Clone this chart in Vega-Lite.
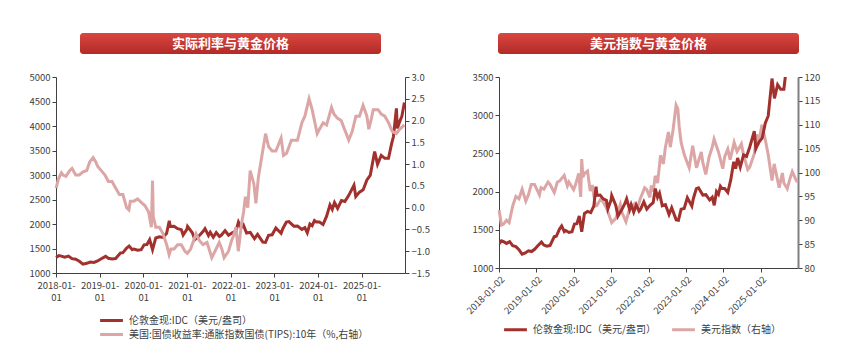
{
  "$schema": "https://vega.github.io/schema/vega-lite/v6.json",
  "background": "white",
  "padding": {"left": 28, "top": 33, "right": 5, "bottom": 5},
  "config": {
    "font": "Noto Sans CJK SC",
    "view": {"stroke": null},
    "concat": {"spacing": 34},
    "axis": {"grid": false, "title": null, "labelFontSize": 9.5, "labelColor": "#404040", "domainColor": "#404040", "tickColor": "#404040", "tickSize": 4, "labelPadding": 2, "labelFont": "Noto Sans CJK SC", "labelOverlap": false},
    "legend": {"labelFontSize": 10, "labelColor": "#404040", "labelLimit": 400, "symbolType": "M-2,0L2,0", "symbolSize": 130, "symbolStrokeWidth": 3, "title": null, "labelOffset": 10}
  },
  "datasets": {
    "gold": [
      {"date": "2018-01-02", "v": 1315}, {"date": "2018-01-25", "v": 1355}, {"date": "2018-02-15", "v": 1345}, {"date": "2018-03-15", "v": 1322}, {"date": "2018-04-15", "v": 1345}, {"date": "2018-05-15", "v": 1292}, {"date": "2018-06-15", "v": 1280}, {"date": "2018-07-15", "v": 1240}, {"date": "2018-08-15", "v": 1180}, {"date": "2018-09-15", "v": 1198}, {"date": "2018-10-15", "v": 1225}, {"date": "2018-11-15", "v": 1215}, {"date": "2018-12-15", "v": 1245},
      {"date": "2019-01-15", "v": 1290}, {"date": "2019-02-20", "v": 1340}, {"date": "2019-03-15", "v": 1300}, {"date": "2019-04-15", "v": 1285}, {"date": "2019-05-15", "v": 1295}, {"date": "2019-06-25", "v": 1410}, {"date": "2019-07-15", "v": 1415}, {"date": "2019-08-15", "v": 1510}, {"date": "2019-09-05", "v": 1550}, {"date": "2019-10-01", "v": 1475}, {"date": "2019-10-15", "v": 1490}, {"date": "2019-11-15", "v": 1465}, {"date": "2019-12-15", "v": 1475},
      {"date": "2020-01-08", "v": 1575}, {"date": "2020-02-01", "v": 1580}, {"date": "2020-02-24", "v": 1680}, {"date": "2020-03-19", "v": 1475}, {"date": "2020-04-15", "v": 1715}, {"date": "2020-05-15", "v": 1740}, {"date": "2020-06-15", "v": 1725}, {"date": "2020-07-15", "v": 1810}, {"date": "2020-08-06", "v": 2065}, {"date": "2020-08-15", "v": 1950}, {"date": "2020-09-15", "v": 1955}, {"date": "2020-10-15", "v": 1905}, {"date": "2020-11-15", "v": 1885}, {"date": "2020-11-30", "v": 1775}, {"date": "2020-12-31", "v": 1890},
      {"date": "2021-01-06", "v": 1950}, {"date": "2021-02-15", "v": 1820}, {"date": "2021-03-08", "v": 1680}, {"date": "2021-04-15", "v": 1765}, {"date": "2021-05-15", "v": 1845}, {"date": "2021-06-01", "v": 1905}, {"date": "2021-06-30", "v": 1765}, {"date": "2021-07-15", "v": 1830}, {"date": "2021-08-09", "v": 1730}, {"date": "2021-09-03", "v": 1825}, {"date": "2021-09-30", "v": 1745}, {"date": "2021-10-15", "v": 1770}, {"date": "2021-11-16", "v": 1865}, {"date": "2021-12-15", "v": 1770},
      {"date": "2022-01-15", "v": 1820}, {"date": "2022-02-15", "v": 1855}, {"date": "2022-03-08", "v": 2040}, {"date": "2022-03-30", "v": 1925}, {"date": "2022-04-18", "v": 1980}, {"date": "2022-05-15", "v": 1815}, {"date": "2022-06-15", "v": 1830}, {"date": "2022-07-20", "v": 1700}, {"date": "2022-08-15", "v": 1790}, {"date": "2022-09-28", "v": 1630}, {"date": "2022-10-20", "v": 1625}, {"date": "2022-11-15", "v": 1770}, {"date": "2022-12-15", "v": 1780},
      {"date": "2023-01-15", "v": 1920}, {"date": "2023-02-28", "v": 1810}, {"date": "2023-03-15", "v": 1910}, {"date": "2023-04-13", "v": 2040}, {"date": "2023-05-04", "v": 2050}, {"date": "2023-06-15", "v": 1955}, {"date": "2023-07-15", "v": 1960}, {"date": "2023-08-21", "v": 1890}, {"date": "2023-09-15", "v": 1925}, {"date": "2023-10-05", "v": 1820}, {"date": "2023-10-27", "v": 2000}, {"date": "2023-11-15", "v": 1965}, {"date": "2023-12-04", "v": 2070}, {"date": "2023-12-20", "v": 2040},
      {"date": "2024-01-15", "v": 2040}, {"date": "2024-02-14", "v": 1990}, {"date": "2024-03-15", "v": 2160}, {"date": "2024-04-12", "v": 2390}, {"date": "2024-05-01", "v": 2300}, {"date": "2024-05-20", "v": 2440}, {"date": "2024-06-15", "v": 2320}, {"date": "2024-07-17", "v": 2480}, {"date": "2024-08-15", "v": 2460}, {"date": "2024-09-15", "v": 2580}, {"date": "2024-10-30", "v": 2790}, {"date": "2024-11-14", "v": 2560}, {"date": "2024-12-15", "v": 2650},
      {"date": "2025-01-15", "v": 2700}, {"date": "2025-02-15", "v": 2900}, {"date": "2025-03-15", "v": 2990}, {"date": "2025-04-21", "v": 3480}, {"date": "2025-05-15", "v": 3220}, {"date": "2025-06-15", "v": 3400}, {"date": "2025-07-15", "v": 3340}, {"date": "2025-08-15", "v": 3340}, {"date": "2025-09-10", "v": 3640}, {"date": "2025-09-25", "v": 3780}, {"date": "2025-10-20", "v": 4360}, {"date": "2025-10-28", "v": 3950}, {"date": "2025-11-15", "v": 4080}, {"date": "2025-12-05", "v": 4200}, {"date": "2025-12-26", "v": 4480}
    ],
    "tips": [
      {"date": "2018-01-02", "v": 0.45}, {"date": "2018-01-20", "v": 0.65}, {"date": "2018-02-15", "v": 0.8}, {"date": "2018-03-01", "v": 0.75}, {"date": "2018-03-25", "v": 0.72}, {"date": "2018-04-25", "v": 0.85}, {"date": "2018-05-15", "v": 0.9}, {"date": "2018-06-15", "v": 0.75}, {"date": "2018-07-15", "v": 0.75}, {"date": "2018-08-15", "v": 0.82}, {"date": "2018-09-15", "v": 0.85}, {"date": "2018-10-10", "v": 1.05}, {"date": "2018-11-08", "v": 1.15}, {"date": "2018-11-30", "v": 1.05}, {"date": "2018-12-15", "v": 0.95},
      {"date": "2019-01-15", "v": 0.85}, {"date": "2019-02-15", "v": 0.75}, {"date": "2019-03-15", "v": 0.6}, {"date": "2019-04-15", "v": 0.6}, {"date": "2019-05-15", "v": 0.45}, {"date": "2019-06-15", "v": 0.3}, {"date": "2019-07-15", "v": 0.3}, {"date": "2019-08-15", "v": 0.0}, {"date": "2019-09-03", "v": -0.05}, {"date": "2019-09-15", "v": 0.15}, {"date": "2019-10-15", "v": 0.15}, {"date": "2019-11-15", "v": 0.2}, {"date": "2019-12-15", "v": 0.12},
      {"date": "2020-01-15", "v": 0.05}, {"date": "2020-02-15", "v": -0.1}, {"date": "2020-03-09", "v": -0.45}, {"date": "2020-03-19", "v": 0.62}, {"date": "2020-03-25", "v": -0.2}, {"date": "2020-04-15", "v": -0.45}, {"date": "2020-05-15", "v": -0.45}, {"date": "2020-06-15", "v": -0.6}, {"date": "2020-07-15", "v": -0.85}, {"date": "2020-08-05", "v": -1.08}, {"date": "2020-08-20", "v": -0.95}, {"date": "2020-09-15", "v": -0.95}, {"date": "2020-10-15", "v": -0.85}, {"date": "2020-11-15", "v": -0.85}, {"date": "2020-12-15", "v": -1.0},
      {"date": "2021-01-04", "v": -1.05}, {"date": "2021-02-01", "v": -0.95}, {"date": "2021-03-18", "v": -0.6}, {"date": "2021-04-15", "v": -0.75}, {"date": "2021-05-15", "v": -0.85}, {"date": "2021-06-18", "v": -0.8}, {"date": "2021-07-28", "v": -1.15}, {"date": "2021-08-15", "v": -1.05}, {"date": "2021-09-28", "v": -0.8}, {"date": "2021-10-20", "v": -0.95}, {"date": "2021-11-08", "v": -1.15}, {"date": "2021-12-15", "v": -1.0},
      {"date": "2022-01-10", "v": -0.75}, {"date": "2022-01-25", "v": -0.65}, {"date": "2022-02-15", "v": -0.45}, {"date": "2022-03-07", "v": -1.0}, {"date": "2022-04-01", "v": -0.4}, {"date": "2022-04-20", "v": -0.1}, {"date": "2022-05-05", "v": 0.25}, {"date": "2022-05-25", "v": 0.0}, {"date": "2022-06-14", "v": 0.85}, {"date": "2022-07-15", "v": 0.55}, {"date": "2022-08-01", "v": 0.1}, {"date": "2022-08-22", "v": 0.7}, {"date": "2022-09-15", "v": 1.1}, {"date": "2022-10-21", "v": 1.7}, {"date": "2022-11-15", "v": 1.4}, {"date": "2022-12-15", "v": 1.3},
      {"date": "2023-01-15", "v": 1.3}, {"date": "2023-02-28", "v": 1.6}, {"date": "2023-03-20", "v": 1.2}, {"date": "2023-04-15", "v": 1.25}, {"date": "2023-05-25", "v": 1.55}, {"date": "2023-06-15", "v": 1.55}, {"date": "2023-07-15", "v": 1.55}, {"date": "2023-08-21", "v": 1.95}, {"date": "2023-09-15", "v": 2.1}, {"date": "2023-10-20", "v": 2.5}, {"date": "2023-11-15", "v": 2.25}, {"date": "2023-12-27", "v": 1.7},
      {"date": "2024-01-15", "v": 1.8}, {"date": "2024-02-15", "v": 1.95}, {"date": "2024-03-15", "v": 1.9}, {"date": "2024-04-25", "v": 2.3}, {"date": "2024-05-15", "v": 2.15}, {"date": "2024-06-15", "v": 2.05}, {"date": "2024-07-15", "v": 2.0}, {"date": "2024-08-05", "v": 1.85}, {"date": "2024-09-16", "v": 1.55}, {"date": "2024-10-15", "v": 1.75}, {"date": "2024-11-15", "v": 2.1}, {"date": "2024-12-15", "v": 2.1},
      {"date": "2025-01-14", "v": 2.35}, {"date": "2025-02-15", "v": 2.1}, {"date": "2025-03-03", "v": 1.8}, {"date": "2025-03-25", "v": 2.05}, {"date": "2025-04-09", "v": 2.25}, {"date": "2025-05-20", "v": 2.25}, {"date": "2025-06-15", "v": 2.15}, {"date": "2025-07-15", "v": 2.1}, {"date": "2025-08-15", "v": 1.95}, {"date": "2025-09-15", "v": 1.75}, {"date": "2025-10-20", "v": 1.7}, {"date": "2025-11-15", "v": 1.8}, {"date": "2025-12-26", "v": 1.9}
    ],
    "dxy": [
      {"date": "2018-01-02", "v": 92.1}, {"date": "2018-01-25", "v": 89.0}, {"date": "2018-02-15", "v": 89.2}, {"date": "2018-03-15", "v": 90.0}, {"date": "2018-04-10", "v": 89.5}, {"date": "2018-05-15", "v": 93.0}, {"date": "2018-06-15", "v": 95.0}, {"date": "2018-07-15", "v": 94.5}, {"date": "2018-08-15", "v": 96.5}, {"date": "2018-09-20", "v": 94.0}, {"date": "2018-10-15", "v": 95.3}, {"date": "2018-11-12", "v": 97.5}, {"date": "2018-12-14", "v": 97.5},
      {"date": "2019-01-31", "v": 95.3}, {"date": "2019-02-15", "v": 96.8}, {"date": "2019-03-15", "v": 96.5}, {"date": "2019-04-25", "v": 98.0}, {"date": "2019-05-15", "v": 97.5}, {"date": "2019-06-25", "v": 95.8}, {"date": "2019-07-25", "v": 98.0}, {"date": "2019-08-15", "v": 98.2}, {"date": "2019-09-30", "v": 99.4}, {"date": "2019-10-31", "v": 97.2}, {"date": "2019-11-15", "v": 98.0}, {"date": "2019-12-31", "v": 96.4},
      {"date": "2020-01-15", "v": 97.2}, {"date": "2020-02-19", "v": 99.8}, {"date": "2020-03-09", "v": 94.9}, {"date": "2020-03-19", "v": 102.8}, {"date": "2020-03-31", "v": 99.0}, {"date": "2020-04-15", "v": 99.8}, {"date": "2020-05-15", "v": 100.3}, {"date": "2020-06-10", "v": 96.1}, {"date": "2020-06-30", "v": 97.4}, {"date": "2020-07-31", "v": 93.0}, {"date": "2020-08-15", "v": 93.1}, {"date": "2020-09-25", "v": 94.6}, {"date": "2020-10-15", "v": 93.8}, {"date": "2020-11-15", "v": 92.6}, {"date": "2020-12-31", "v": 89.9},
      {"date": "2021-01-06", "v": 89.5}, {"date": "2021-02-15", "v": 90.4}, {"date": "2021-03-31", "v": 93.3}, {"date": "2021-04-15", "v": 91.7}, {"date": "2021-05-25", "v": 89.7}, {"date": "2021-06-30", "v": 92.4}, {"date": "2021-07-15", "v": 92.7}, {"date": "2021-08-20", "v": 93.5}, {"date": "2021-09-15", "v": 92.6}, {"date": "2021-10-12", "v": 94.5}, {"date": "2021-11-24", "v": 96.8}, {"date": "2021-12-15", "v": 96.4},
      {"date": "2022-01-14", "v": 94.8}, {"date": "2022-01-28", "v": 97.3}, {"date": "2022-02-15", "v": 96.0}, {"date": "2022-03-07", "v": 99.3}, {"date": "2022-03-30", "v": 97.8}, {"date": "2022-04-28", "v": 103.6}, {"date": "2022-05-26", "v": 101.8}, {"date": "2022-06-14", "v": 105.2}, {"date": "2022-07-14", "v": 108.5}, {"date": "2022-08-01", "v": 105.3}, {"date": "2022-08-29", "v": 109.0}, {"date": "2022-09-27", "v": 114.1}, {"date": "2022-10-14", "v": 113.3}, {"date": "2022-10-27", "v": 109.7}, {"date": "2022-11-15", "v": 106.3}, {"date": "2022-12-15", "v": 103.8},
      {"date": "2023-01-15", "v": 102.0}, {"date": "2023-02-02", "v": 101.0}, {"date": "2023-03-08", "v": 105.6}, {"date": "2023-04-14", "v": 101.0}, {"date": "2023-05-31", "v": 104.3}, {"date": "2023-06-15", "v": 102.1}, {"date": "2023-07-14", "v": 99.6}, {"date": "2023-08-15", "v": 103.2}, {"date": "2023-09-15", "v": 105.3}, {"date": "2023-10-03", "v": 107.0}, {"date": "2023-11-15", "v": 104.3}, {"date": "2023-12-27", "v": 100.8},
      {"date": "2024-01-15", "v": 103.3}, {"date": "2024-02-14", "v": 104.9}, {"date": "2024-03-08", "v": 102.7}, {"date": "2024-04-16", "v": 106.3}, {"date": "2024-05-15", "v": 104.4}, {"date": "2024-06-26", "v": 106.0}, {"date": "2024-07-17", "v": 103.7}, {"date": "2024-08-27", "v": 100.6}, {"date": "2024-09-15", "v": 101.1}, {"date": "2024-10-31", "v": 104.0}, {"date": "2024-11-22", "v": 108.0}, {"date": "2024-12-06", "v": 105.8}, {"date": "2024-12-31", "v": 108.5},
      {"date": "2025-01-13", "v": 110.0}, {"date": "2025-02-15", "v": 106.8}, {"date": "2025-03-15", "v": 103.7}, {"date": "2025-04-21", "v": 98.3}, {"date": "2025-05-12", "v": 101.8}, {"date": "2025-06-30", "v": 96.8}, {"date": "2025-07-31", "v": 99.9}, {"date": "2025-08-15", "v": 97.8}, {"date": "2025-09-17", "v": 96.6}, {"date": "2025-10-15", "v": 98.8}, {"date": "2025-11-05", "v": 100.2}, {"date": "2025-12-15", "v": 98.3}, {"date": "2025-12-26", "v": 98.0}
    ]
  },
  "resolve": {"scale": {"color": "independent"}},
  "hconcat": [
    {
      "center": true,
      "bounds": "flush",
      "spacing": 23,
      "vconcat": [
        {
          "width": 301, "height": 21,
          "data": {"values": [{"t": "实际利率与黄金价格"}]},
          "layer": [
            {"mark": {"type": "rect", "cornerRadius": 3, "color": {"gradient": "linear", "x1": 0, "y1": 0, "x2": 0, "y2": 1, "stops": [{"offset": 0, "color": "#d9473f"}, {"offset": 1, "color": "#b32a28"}]}}, "encoding": {}},
            {"mark": {"type": "text", "color": "white", "fontWeight": "bold", "fontSize": 13}, "encoding": {"text": {"field": "t"}}}
          ]
        },
        {
          "width": 349, "height": 196,
          "resolve": {"scale": {"y": "independent"}},
          "layer": [
            {
              "data": {"name": "gold"},
              "mark": {"type": "line", "strokeWidth": 3},
              "encoding": {
                "x": {"field": "date", "type": "temporal", "scale": {"type": "utc", "domain": [{"year": 2018, "month": 1, "date": 1, "utc": true}, {"year": 2025, "month": 12, "date": 31, "utc": true}]}, "axis": {"tickCount": {"interval": "year", "step": 1}, "labelExpr": "[utcFormat(datum.value, '%Y-%m-'), '01']", "labelAlign": "center", "labelLineHeight": 12.5, "labelPadding": 3}},
                "y": {"field": "v", "type": "quantitative", "scale": {"domain": [1000, 5000], "nice": false, "zero": false}, "axis": {"orient": "left", "values": [1000, 1500, 2000, 2500, 3000, 3500, 4000, 4500, 5000], "format": "d"}},
                "color": {"datum": "伦敦金现:IDC（美元/盎司）", "scale": {"domain": ["伦敦金现:IDC（美元/盎司）", "美国:国债收益率:通胀指数国债(TIPS):10年（%,右轴）"], "range": ["#a2302d", "#dca6a6"]}, "legend": {"orient": "none", "legendX": 48, "legendY": 280, "direction": "vertical", "rowPadding": 0}}
              }
            },
            {
              "data": {"name": "tips"},
              "mark": {"type": "line", "strokeWidth": 3},
              "encoding": {
                "x": {"field": "date", "type": "temporal"},
                "y": {"field": "v", "type": "quantitative", "scale": {"domain": [-1.5, 3], "nice": false, "zero": false}, "axis": {"orient": "right", "values": [-1.5, -1, -0.5, 0, 0.5, 1, 1.5, 2, 2.5, 3], "format": ".1f"}},
                "color": {"datum": "美国:国债收益率:通胀指数国债(TIPS):10年（%,右轴）"}
              }
            }
          ]
        }
      ]
    },
    {
      "center": true,
      "bounds": "flush",
      "spacing": 23,
      "vconcat": [
        {
          "width": 301, "height": 21,
          "data": {"values": [{"t": "美元指数与黄金价格"}]},
          "layer": [
            {"mark": {"type": "rect", "cornerRadius": 3, "color": {"gradient": "linear", "x1": 0, "y1": 0, "x2": 0, "y2": 1, "stops": [{"offset": 0, "color": "#d9473f"}, {"offset": 1, "color": "#b32a28"}]}}, "encoding": {}},
            {"mark": {"type": "text", "color": "white", "fontWeight": "bold", "fontSize": 13}, "encoding": {"text": {"field": "t"}}}
          ]
        },
        {
          "width": 299, "height": 191,
          "resolve": {"scale": {"y": "independent"}},
          "layer": [
            {
              "data": {"name": "dxy"},
              "mark": {"type": "line", "strokeWidth": 3},
              "encoding": {
                "x": {"field": "date", "type": "temporal", "scale": {"type": "utc", "domain": [{"year": 2018, "month": 1, "date": 1, "utc": true}, {"year": 2025, "month": 12, "date": 31, "utc": true}]}, "axis": {"tickCount": {"interval": "year", "step": 1}, "labelExpr": "utcFormat(datum.value, '%Y-%m-') + '02'", "labelAngle": -45, "labelAlign": "right", "labelBaseline": "top", "labelPadding": 2}},
                "y": {"field": "v", "type": "quantitative", "scale": {"domain": [80, 120], "nice": false, "zero": false}, "axis": {"orient": "right", "values": [80, 85, 90, 95, 100, 105, 110, 115, 120], "format": "d", "domainColor": "#7f7f7f", "domainWidth": 2}},
                "color": {"datum": "美元指数（右轴）"}
              }
            },
            {
              "data": {"name": "gold"},
              "mark": {"type": "line", "strokeWidth": 3, "clip": true},
              "encoding": {
                "x": {"field": "date", "type": "temporal"},
                "y": {"field": "v", "type": "quantitative", "scale": {"domain": [1000, 3500], "nice": false, "zero": false}, "axis": {"orient": "left", "values": [1000, 1500, 2000, 2500, 3000, 3500], "format": "d"}},
                "color": {"datum": "伦敦金现:IDC（美元/盎司）", "scale": {"domain": ["伦敦金现:IDC（美元/盎司）", "美元指数（右轴）"], "range": ["#a2302d", "#dca6a6"]}, "legend": {"orient": "none", "legendX": 10, "legendY": 289, "direction": "horizontal", "columnPadding": 10}}
              }
            }
          ]
        }
      ]
    }
  ]
}
